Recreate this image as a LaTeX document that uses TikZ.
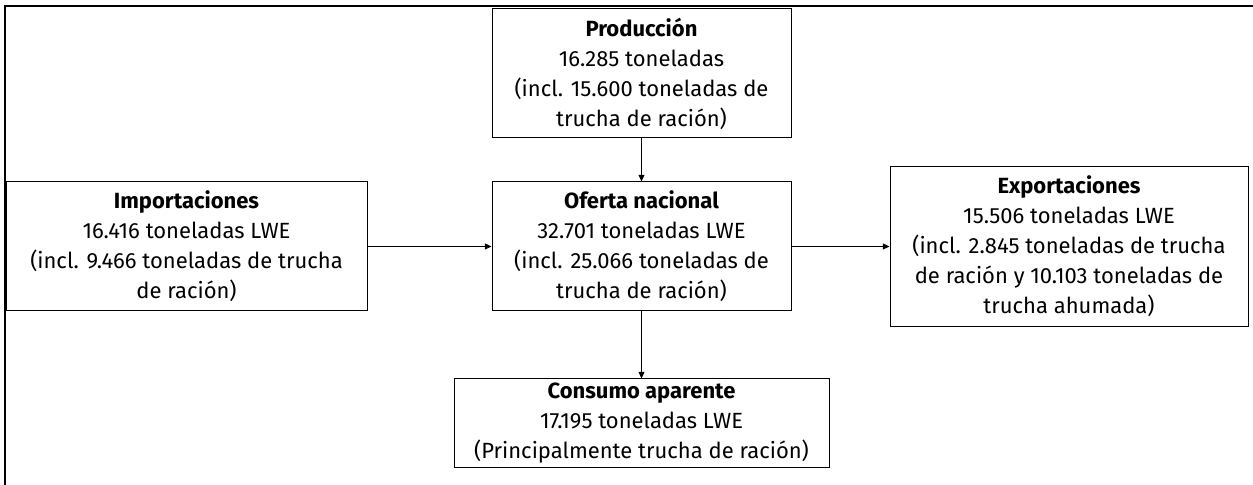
\documentclass[tikz,border=0pt]{standalone}
\usepackage{fontspec}
\setmainfont{Fira Sans}
\usetikzlibrary{arrows.meta,positioning}

\begin{document}
\begin{tikzpicture}[x=0.75pt,y=0.75pt,node distance=43 and 124,line width=0.75pt,
  every node/.style={font=\fontsize{16.5}{22.5}\selectfont},
  flowbox/.style={draw,align=center,inner sep=0pt,minimum width=#1},
  flow/.style={-{Triangle[length=5pt,width=4.5pt]}}]
  \useasboundingbox (0,0) rectangle (1253,485);
  \draw[line width=1.5pt] (5,0) -- (5,479) -- (1253,479);
  \node [flowbox=224.25pt,minimum height=96.75pt] (Oferta) at (641.5,238.5)
    {\textbf{Oferta nacional}\\32.701 toneladas LWE\\(incl. 25.066 toneladas de\\trucha de ración)};
  \node [flowbox=224.25pt,minimum height=96.75pt,above=of Oferta] (Prod)
    {\textbf{Producción}\\16.285 toneladas\\(incl. 15.600 toneladas de\\trucha de ración)};
  \node [flowbox=270.75pt,minimum height=96.75pt,left=of Oferta] (Imp)
    {\textbf{Importaciones}\\16.416 toneladas LWE\\(incl. 9.466 toneladas de trucha\\de ración)};
  \node [flowbox=268.5pt,minimum height=120pt,right=98 of Oferta] (Exp)
    {\textbf{Exportaciones}\\15.506 toneladas LWE\\(incl. 2.845 toneladas de trucha\\de ración y 10.103 toneladas de\\trucha ahumada)};
  \node [flowbox=281.25pt,minimum height=66.75pt,below=67 of Oferta] (Cons)
    {\textbf{Consumo aparente}\\17.195 toneladas LWE\\(Principalmente trucha de ración)};
  \draw[flow] (Prod) -- (Oferta);
  \draw[flow] (Imp) -- (Oferta);
  \draw[flow] (Oferta) -- (Exp);
  \draw[flow] (Oferta) -- (Cons);
\end{tikzpicture}
\end{document}
